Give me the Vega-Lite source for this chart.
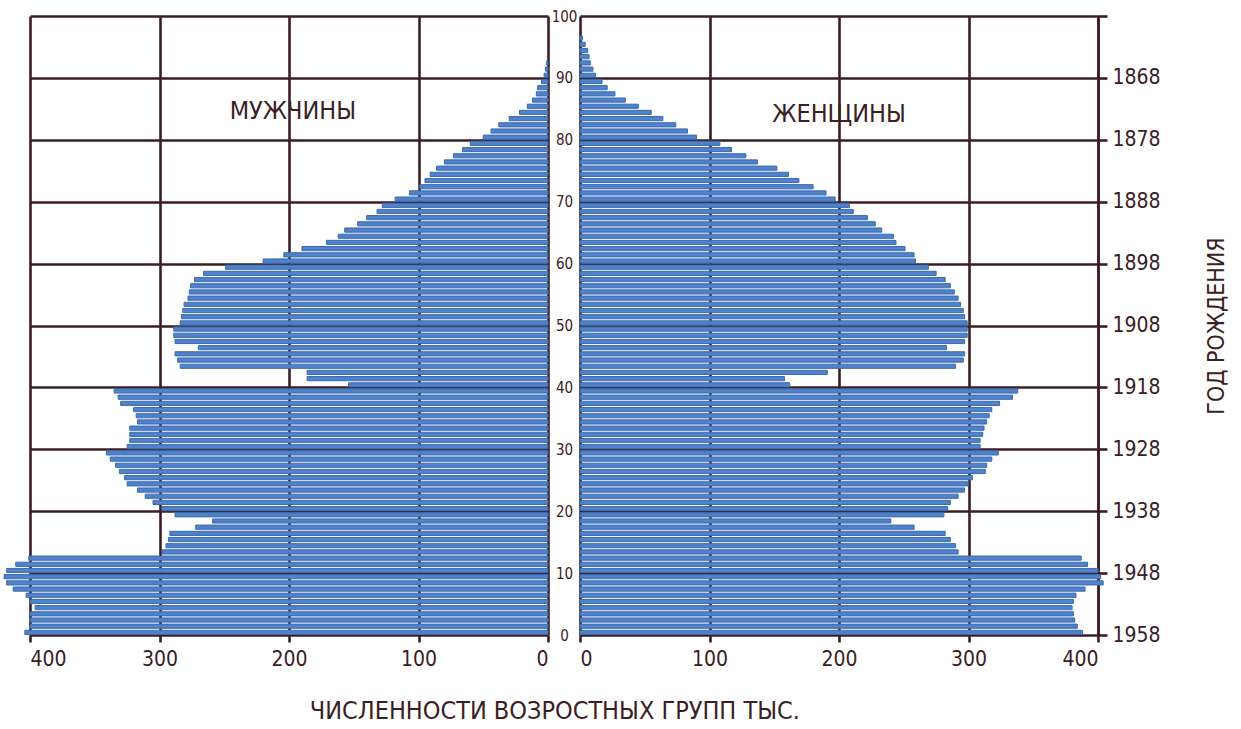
{
"$schema": "https://vega.github.io/schema/vega-lite/v6.json",
"background": "white",
"padding": {"left": 3, "top": 9, "right": 5, "bottom": 5},
"bounds": "flush",
"spacing": 32,
"config": {
 "view": {"stroke": null},
 "font": "Liberation Sans Narrow, DejaVu Sans Condensed, Roboto Condensed, Roboto, sans-serif",
 "axis": {"gridColor": "#3b1e24", "gridWidth": 2.6, "gridOpacity": 1, "tickColor": "#3b1e24", "tickWidth": 2.6, "domainColor": "#3b1e24", "domainWidth": 2.6, "labelColor": "#3a2024", "titleColor": "#3a2024", "zindex": 1}
},
"title": {"text": "ЧИСЛЕННОСТИ ВОЗРОСТНЫХ ГРУПП ТЫС.", "orient": "bottom", "anchor": "middle", "fontSize": 25, "fontWeight": "normal", "color": "#3a2024", "offset": 30, "dx": -61},
"datasets": {
 "men": [
  {"age":0,"count":404},{"age":1,"count":400},{"age":2,"count":400},{"age":3,"count":400},{"age":4,"count":396},{"age":5,"count":400},{"age":6,"count":403},{"age":7,"count":413},{"age":8,"count":418},{"age":9,"count":420},
  {"age":10,"count":418},{"age":11,"count":411},{"age":12,"count":401},{"age":13,"count":298},{"age":14,"count":295},{"age":15,"count":293},{"age":16,"count":292},{"age":17,"count":272},{"age":18,"count":259},{"age":19,"count":288},
  {"age":20,"count":298},{"age":21,"count":305},{"age":22,"count":311},{"age":23,"count":317},{"age":24,"count":325},{"age":25,"count":327},{"age":26,"count":331},{"age":27,"count":334},{"age":28,"count":338},{"age":29,"count":341},
  {"age":30,"count":325},{"age":31,"count":323},{"age":32,"count":323},{"age":33,"count":323},{"age":34,"count":317},{"age":35,"count":318},{"age":36,"count":320},{"age":37,"count":330},{"age":38,"count":332},{"age":39,"count":335},
  {"age":40,"count":154},{"age":41,"count":186},{"age":42,"count":186},{"age":43,"count":284},{"age":44,"count":286},{"age":45,"count":288},{"age":46,"count":270},{"age":47,"count":288},{"age":48,"count":289},{"age":49,"count":289},
  {"age":50,"count":284},{"age":51,"count":283},{"age":52,"count":282},{"age":53,"count":281},{"age":54,"count":278},{"age":55,"count":277},{"age":56,"count":276},{"age":57,"count":273},{"age":58,"count":266},{"age":59,"count":249},
  {"age":60,"count":220},{"age":61,"count":204},{"age":62,"count":190},{"age":63,"count":171},{"age":64,"count":162},{"age":65,"count":157},{"age":66,"count":147},{"age":67,"count":140},{"age":68,"count":132},{"age":69,"count":128},
  {"age":70,"count":118},{"age":71,"count":107},{"age":72,"count":99},{"age":73,"count":95},{"age":74,"count":91},{"age":75,"count":86},{"age":76,"count":80},{"age":77,"count":73},{"age":78,"count":66},{"age":79,"count":60},
  {"age":80,"count":50},{"age":81,"count":44},{"age":82,"count":38},{"age":83,"count":30},{"age":84,"count":22},{"age":85,"count":16},{"age":86,"count":12},{"age":87,"count":9},{"age":88,"count":8},{"age":89,"count":5},
  {"age":90,"count":3},{"age":91,"count":2},{"age":92,"count":1}
 ],
 "women": [
  {"age":0,"count":388},{"age":1,"count":384},{"age":2,"count":382},{"age":3,"count":381},{"age":4,"count":380},{"age":5,"count":381},{"age":6,"count":383},{"age":7,"count":390},{"age":8,"count":404},{"age":9,"count":402},
  {"age":10,"count":400},{"age":11,"count":392},{"age":12,"count":387},{"age":13,"count":292},{"age":14,"count":290},{"age":15,"count":286},{"age":16,"count":282},{"age":17,"count":258},{"age":18,"count":240},{"age":19,"count":281},
  {"age":20,"count":284},{"age":21,"count":286},{"age":22,"count":292},{"age":23,"count":297},{"age":24,"count":300},{"age":25,"count":303},{"age":26,"count":313},{"age":27,"count":314},{"age":28,"count":318},{"age":29,"count":323},
  {"age":30,"count":309},{"age":31,"count":309},{"age":32,"count":311},{"age":33,"count":312},{"age":34,"count":314},{"age":35,"count":316},{"age":36,"count":318},{"age":37,"count":324},{"age":38,"count":334},{"age":39,"count":338},
  {"age":40,"count":162},{"age":41,"count":158},{"age":42,"count":191},{"age":43,"count":290},{"age":44,"count":296},{"age":45,"count":297},{"age":46,"count":283},{"age":47,"count":297},{"age":48,"count":299},{"age":49,"count":299},
  {"age":50,"count":299},{"age":51,"count":297},{"age":52,"count":296},{"age":53,"count":294},{"age":54,"count":292},{"age":55,"count":289},{"age":56,"count":286},{"age":57,"count":282},{"age":58,"count":275},{"age":59,"count":269},
  {"age":60,"count":259},{"age":61,"count":258},{"age":62,"count":251},{"age":63,"count":244},{"age":64,"count":242},{"age":65,"count":233},{"age":66,"count":228},{"age":67,"count":222},{"age":68,"count":211},{"age":69,"count":208},
  {"age":70,"count":197},{"age":71,"count":190},{"age":72,"count":180},{"age":73,"count":169},{"age":74,"count":161},{"age":75,"count":152},{"age":76,"count":137},{"age":77,"count":128},{"age":78,"count":117},{"age":79,"count":108},
  {"age":80,"count":90},{"age":81,"count":83},{"age":82,"count":74},{"age":83,"count":64},{"age":84,"count":55},{"age":85,"count":45},{"age":86,"count":35},{"age":87,"count":27},{"age":88,"count":21},{"age":89,"count":17},
  {"age":90,"count":12},{"age":91,"count":10},{"age":92,"count":8},{"age":93,"count":7},{"age":94,"count":6},{"age":95,"count":4},{"age":96,"count":2}
 ]
},
"hconcat": [
 {
  "width": 518, "height": 619,
  "layer": [
   {
    "data": {"name": "men"},
    "mark": {"type": "bar", "color": "#4f82c9", "stroke": "#3b6ab2", "strokeWidth": 1, "binSpacing": 2},
    "encoding": {
     "y": {"field": "age", "type": "quantitative", "bin": {"binned": true, "step": 1},
           "scale": {"domain": [0, 100], "nice": false},
           "axis": {"orient": "right", "values": [0,10,20,30,40,50,60,70,80,90,100], "grid": true, "ticks": false, "domain": false, "labelAlign": "center", "labelPadding": 16, "labelFontSize": 15, "title": null}},
     "x": {"field": "count", "type": "quantitative",
           "scale": {"domain": [0, 400], "reverse": true, "nice": false},
           "axis": {"orient": "bottom", "values": [0,100,200,300,400], "grid": true, "ticks": true, "tickSize": 7, "domain": false, "labelFontSize": 21, "labelPadding": 6, "title": null}}
    }
   },
   {
    "data": {"values": [{"label": "МУЖЧИНЫ"}]},
    "mark": {"type": "text", "fontSize": 25, "color": "#3a2024"},
    "encoding": {"text": {"field": "label"}, "x": {"datum": 197}, "y": {"datum": 84.6}}
   }
  ]
 },
 {
  "width": 518, "height": 619,
  "layer": [
   {
    "data": {"name": "women"},
    "mark": {"type": "bar", "color": "#4f82c9", "stroke": "#3b6ab2", "strokeWidth": 1, "binSpacing": 2},
    "encoding": {
     "y": {"field": "age", "type": "quantitative", "bin": {"binned": true, "step": 1},
           "scale": {"domain": [0, 100], "nice": false},
           "axis": {"orient": "right", "values": [0,10,20,30,40,50,60,70,80,90,100], "labelExpr": "datum.value == 100 ? '' : '' + (1958 - datum.value)", "grid": true, "ticks": true, "tickSize": 9, "domain": true, "labelFontSize": 21, "labelPadding": 5, "title": "ГОД РОЖДЕНИЯ", "titleAngle": 270, "titleFontSize": 23, "titleFontWeight": "normal", "titlePadding": 68}},
     "x": {"field": "count", "type": "quantitative",
           "scale": {"domain": [0, 400], "nice": false},
           "axis": {"orient": "bottom", "values": [0,100,200,300,400], "grid": true, "ticks": true, "tickSize": 7, "domain": false, "labelFontSize": 21, "labelPadding": 6, "title": null}}
    }
   },
   {
    "data": {"values": [{"label": "ЖЕНЩИНЫ"}]},
    "mark": {"type": "text", "fontSize": 25, "color": "#3a2024"},
    "encoding": {"text": {"field": "label"}, "x": {"datum": 200}, "y": {"datum": 84.2}}
   }
  ]
 }
]
}
